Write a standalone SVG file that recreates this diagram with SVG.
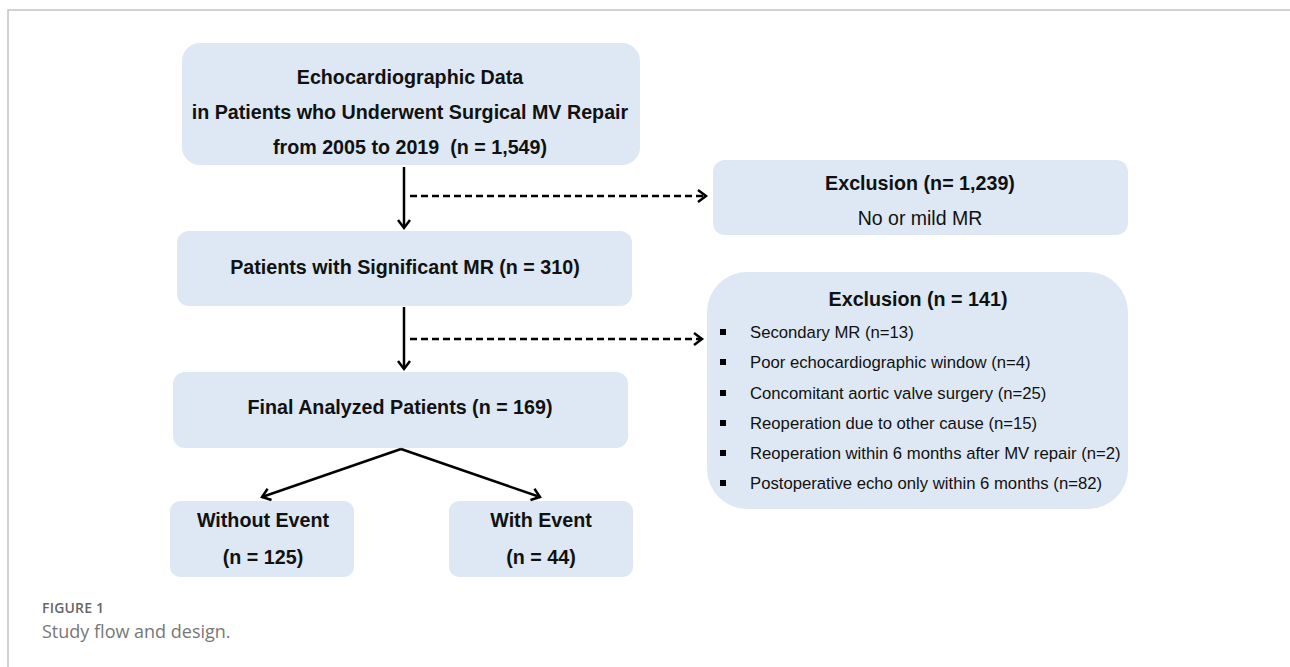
<svg xmlns="http://www.w3.org/2000/svg" width="1290" height="667" viewBox="0 0 1290 667">
<style>
.box{fill:#dde8f4}
.b{font-family:"Liberation Sans",Arial,sans-serif;font-weight:bold;font-size:19.7px;fill:#111;text-anchor:middle}
.r{font-family:"Liberation Sans",Arial,sans-serif;font-size:19.5px;fill:#111;text-anchor:middle}
.li{font-family:"Liberation Sans",Arial,sans-serif;font-size:16.7px;fill:#111}
.solid{stroke:#000;stroke-width:2.5;fill:none}
.dash{stroke:#000;stroke-width:2.5;fill:none;stroke-dasharray:7 4}
.cap1{font-family:"Open Sans",Lato,sans-serif;font-size:14px;fill:#666;font-weight:600;letter-spacing:0.2px}
.cap2{font-family:"Open Sans",Lato,sans-serif;font-size:18px;fill:#777}
</style>
<defs>
<marker id="ah" markerUnits="userSpaceOnUse" markerWidth="16" markerHeight="16" refX="10" refY="7" orient="auto">
<path d="M2,1 L10,7 L2,13" fill="none" stroke="#000" stroke-width="2.5"/>
</marker>
</defs>
<rect x="0" y="0" width="1290" height="667" fill="#fff"/>
<path d="M8,667 V10 H1290" fill="none" stroke="#c4c4c4" stroke-width="1.5"/>

<g id="n1"><rect class="box" x="182" y="43" width="458" height="122" rx="18"/>
<text class="b" x="410" y="84">Echocardiographic Data</text>
<text class="b" x="410" y="119">in Patients who Underwent Surgical MV Repair</text>
<text class="b" x="410" y="154">from 2005 to 2019&#160; (n = 1,549)</text></g>

<g id="n2"><rect class="box" x="713" y="160" width="415" height="75" rx="12"/>
<text class="b" x="920" y="190">Exclusion (n= 1,239)</text>
<text class="r" x="920" y="225">No or mild MR</text></g>

<g id="n3"><rect class="box" x="177" y="231" width="455" height="75" rx="12"/>
<text class="b" x="405" y="274">Patients with Significant MR (n = 310)</text></g>

<g id="n4"><rect class="box" x="707" y="272" width="421" height="237" rx="40"/>
<text class="b" x="918" y="306">Exclusion (n = 141)</text>
<g class="li">
<rect x="720" y="329" width="6" height="6" fill="#000"/><text x="750" y="338">Secondary MR (n=13)</text>
<rect x="720" y="359" width="6" height="6" fill="#000"/><text x="750" y="368">Poor echocardiographic window (n=4)</text>
<rect x="720" y="390" width="6" height="6" fill="#000"/><text x="750" y="399">Concomitant aortic valve surgery (n=25)</text>
<rect x="720" y="420" width="6" height="6" fill="#000"/><text x="750" y="429">Reoperation due to other cause (n=15)</text>
<rect x="720" y="450" width="6" height="6" fill="#000"/><text x="750" y="459">Reoperation within 6 months after MV repair (n=2)</text>
<rect x="720" y="480" width="6" height="6" fill="#000"/><text x="750" y="489">Postoperative echo only within 6 months (n=82)</text>
</g></g>

<g id="n5"><rect class="box" x="173" y="372" width="455" height="76" rx="12"/>
<text class="b" x="400" y="414">Final Analyzed Patients (n = 169)</text></g>

<g id="n6"><rect class="box" x="170" y="501" width="184" height="76" rx="10"/>
<text class="b" x="263" y="527">Without Event</text>
<text class="b" x="263" y="564">(n = 125)</text></g>

<g id="n7"><rect class="box" x="449" y="501" width="184" height="76" rx="10"/>
<text class="b" x="541" y="527">With Event</text>
<text class="b" x="541" y="564">(n = 44)</text></g>

<g id="connectors">
<line class="solid" x1="404" y1="167" x2="404" y2="228" marker-end="url(#ah)"/>
<line class="dash" x1="410" y1="196" x2="706" y2="196" marker-end="url(#ah)"/>
<line class="solid" x1="404" y1="307" x2="404" y2="369" marker-end="url(#ah)"/>
<line class="dash" x1="410" y1="339" x2="702" y2="339" marker-end="url(#ah)"/>
<line class="solid" x1="401" y1="449" x2="262" y2="497" marker-end="url(#ah)"/>
<line class="solid" x1="401" y1="449" x2="540" y2="497" marker-end="url(#ah)"/>
</g>

<text class="cap1" x="42" y="613">FIGURE 1</text>
<text class="cap2" x="42" y="638">Study flow and design.</text>
</svg>
